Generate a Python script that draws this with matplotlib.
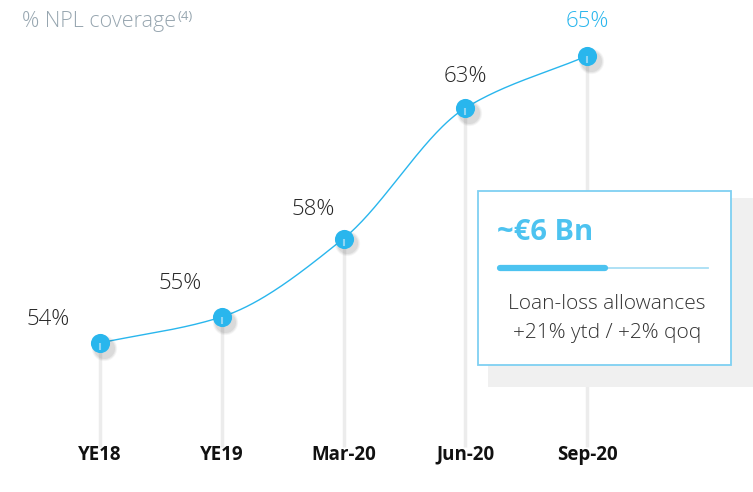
import numpy as np
import matplotlib
matplotlib.use("Agg")
import matplotlib.pyplot as plt
from matplotlib.patches import Rectangle
from matplotlib.lines import Line2D

categories = ["YE18", "YE19", "Mar-20", "Jun-20", "Sep-20"]
coverage = [54, 55, 58, 63, 65]
labels = ["54%", "55%", "58%", "63%", "65%"]
title = "% NPL coverage"
title_note = "(4)"
box_value = "~€6 Bn"
box_lines = ["Loan-loss allowances", "+21% ytd / +2% qoq"]

W, H = 753, 492
fig = plt.figure(figsize=(W / 100, H / 100), dpi=100)
ax = fig.add_axes([0, 0, 1, 1])
ax.set_xlim(-0.821, 5.363)
ax.set_ylim(48.29, 67.14)
ax.axis("off")

FONT = ["Open Sans", "DejaVu Sans"]
BLUE = "#29b6ed"

def px(x, y):
    return x / W, 1 - y / H

x = np.arange(len(categories))
y = np.array(coverage, dtype=float)

# monotone cubic (Fritsch-Carlson) for smooth line drawing
def monotone(xs, ys, n=60):
    d = np.diff(ys) / np.diff(xs)
    m = np.zeros_like(ys)
    m[0], m[-1] = d[0], d[-1]
    for i in range(1, len(ys) - 1):
        m[i] = 0 if d[i - 1] * d[i] <= 0 else 2 / (1 / d[i - 1] + 1 / d[i])
    X, Y = [], []
    for i in range(len(xs) - 1):
        h = xs[i + 1] - xs[i]
        t = np.linspace(0, 1, n)
        h00 = 2 * t**3 - 3 * t**2 + 1
        h10 = t**3 - 2 * t**2 + t
        h01 = -2 * t**3 + 3 * t**2
        h11 = t**3 - t**2
        X.append(xs[i] + t * h)
        Y.append(h00 * ys[i] + h10 * h * m[i] + h01 * ys[i + 1] + h11 * h * m[i + 1])
    return np.concatenate(X), np.concatenate(Y)

cx, cy = monotone(x.astype(float), y)
ax.plot(cx, cy, color=BLUE, lw=1.0, zorder=3)

# vertical gray stems
for xi, yi in zip(x, y):
    ax.plot([xi, xi], [50, yi], color="#ececec", lw=2.5, zorder=2, solid_capstyle="butt")

# soft shadow + markers
for s, a in [(330, 0.04), (280, 0.05), (230, 0.06)]:
    ax.scatter(x + 0.03, y - 0.18, s=s, color="#000000", alpha=a, zorder=3.5, linewidths=0)
ax.scatter(x, y, s=190, color=BLUE, zorder=4, linewidths=0)
for xi, yi in zip(x, y):
    ax.plot([xi, xi], [yi - 0.28, yi], color="#8fd5f3", lw=1.5, zorder=5, solid_capstyle="butt")

# value labels
offsets = [(-52, 23), (-42, 33), (-30, 29), (0, 32), (0, 34)]
for i, (xi, yi) in enumerate(zip(x, y)):
    col = BLUE if i == len(x) - 1 else "#262626"
    ax.annotate(labels[i], (xi, yi), xytext=(offsets[i][0] * 0.72, offsets[i][1] * 0.72),
                textcoords="offset points", ha="center", va="center",
                fontsize=16, fontweight="light", color=col, family=FONT, zorder=6)

# category labels
for xi, c in zip(x, categories):
    ax.text(xi, 49.52, c, ha="center", va="baseline", fontsize=13.5,
            fontweight="bold", color="#111111", family=FONT)

# title
t = fig.text(*px(22, 22), title, ha="left", va="center", fontsize=15.5,
             fontweight="light", color="#97a6b0", family=FONT)
fig.canvas.draw()
bb = t.get_window_extent()
fig.text((bb.x1 + 1) / W, px(0, 16)[1], title_note, ha="left", va="center", fontsize=9.5,
         color="#97a6b0", family=FONT)

# callout box
x0, y0 = px(488, 387)
x1, y1 = px(753, 198)
fig.patches.append(Rectangle((x0, y0), x1 - x0, y1 - y0, transform=fig.transFigure,
                             facecolor="#f0f0f0", edgecolor="none", zorder=7))
x0, y0 = px(478, 365)
x1, y1 = px(731, 191)
fig.patches.append(Rectangle((x0, y0), x1 - x0, y1 - y0, transform=fig.transFigure,
                             facecolor="white", edgecolor="#7fd0f2", lw=1.3, zorder=8))
fig.text(*px(497, 233), box_value, ha="left", va="center", fontsize=21,
         fontweight="bold", color="#4dc3f0", family=FONT, zorder=9)
lx0, ly = px(500, 268)
lx1, _ = px(708, 268)
lx2, _ = px(605, 268)
fig.lines.append(Line2D([lx0, lx1], [ly, ly], transform=fig.transFigure,
                        color="#a8def5", lw=1.3, zorder=9))
fig.lines.append(Line2D([lx0, lx2], [ly, ly], transform=fig.transFigure,
                        color="#4dc3f0", lw=4.5, solid_capstyle="round", zorder=10))
fig.text(*px(607, 304), box_lines[0], ha="center", va="center", fontsize=15,
         fontweight="light", color="#333333", family=FONT, zorder=9)
fig.text(*px(607, 333), box_lines[1], ha="center", va="center", fontsize=15,
         fontweight="light", color="#333333", family=FONT, zorder=9)

fig.savefig("out.png", dpi=100, facecolor="white")
